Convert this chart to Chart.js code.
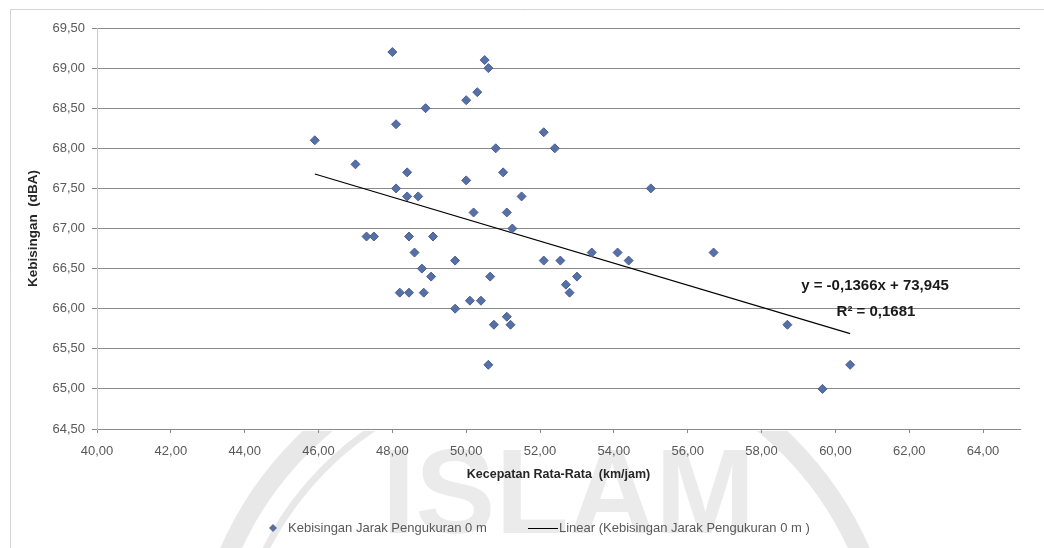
<!DOCTYPE html>
<html>
<head>
<meta charset="utf-8">
<script src="https://cdn.jsdelivr.net/npm/chart.js@4.4.0/dist/chart.umd.min.js"></script>
<style>
  html, body { margin: 0; padding: 0; background: #fff; }
  #wrap { width: 1044px; height: 548px; }
</style>
</head>
<body>
<div id="wrap"><canvas id="chart"></canvas></div>
<script>
// Kecepatan rata-rata (km/jam) vs kebisingan (dBA), jarak pengukuran 0 m
const speedKmh = [
  45.9, 47.0, 47.3, 47.5, 48.0, 48.1, 48.1, 48.4, 48.4, 48.7,
  48.45, 48.6, 48.8, 48.2, 48.45, 48.85, 48.9, 49.1, 49.05, 49.7,
  49.7, 50.0, 50.0, 50.1, 50.2, 50.3, 50.4, 50.5, 50.6, 50.6,
  50.65, 50.75, 50.8, 51.0, 51.1, 51.1, 51.2, 51.25, 51.5, 52.1,
  52.1, 52.4, 52.55, 52.7, 52.8, 53.0, 53.4, 54.1, 54.4, 55.0,
  56.7, 58.7, 59.65, 60.4
];
const noiseDba = [
  68.1, 67.8, 66.9, 66.9, 69.2, 68.3, 67.5, 67.7, 67.4, 67.4,
  66.9, 66.7, 66.5, 66.2, 66.2, 66.2, 68.5, 66.9, 66.4, 66.6,
  66.0, 68.6, 67.6, 66.1, 67.2, 68.7, 66.1, 69.1, 69.0, 65.3,
  66.4, 65.8, 68.0, 67.7, 67.2, 65.9, 65.8, 67.0, 67.4, 68.2,
  66.6, 68.0, 66.6, 66.3, 66.2, 66.4, 66.7, 66.7, 66.6, 67.5,
  66.7, 65.8, 65.0, 65.3
];

// Linear trend line (read at the ends of the drawn line)
const trendSpeed = [45.9, 60.4];
const trendNoise = [67.68, 65.69];
const trendLabel = ['y = -0,1366x + 73,945', 'R\u00b2 = 0,1681'];

const xTicks = [40, 42, 44, 46, 48, 50, 52, 54, 56, 58, 60, 62, 64];
const yTicks = [64.5, 65, 65.5, 66, 66.5, 67, 67.5, 68, 68.5, 69, 69.5];

const seriesName = 'Kebisingan Jarak Pengukuran 0 m';
const trendName = 'Linear (Kebisingan Jarak Pengukuran 0 m )';

const FONT = '"Liberation Sans", Arial, sans-serif';
const comma = v => v.toFixed(2).replace('.', ',');

// faint watermark (only visible outside the plot area) + outer frame
const backdrop = {
  id: 'backdrop',
  beforeDraw(chart) {
    const ctx = chart.ctx;
    ctx.save();
    ctx.beginPath();
    ctx.rect(0, 431, 1044, 117);
    ctx.clip();
    ctx.strokeStyle = 'rgba(0,0,0,0.09)';
    ctx.lineWidth = 20;
    ctx.beginPath();
    ctx.arc(545, 689, 344, 0, Math.PI * 2);
    ctx.stroke();
    ctx.lineWidth = 7;
    ctx.beginPath();
    ctx.arc(545, 689, 312, Math.PI * 1.05, Math.PI * 1.4);
    ctx.stroke();
    ctx.fillStyle = 'rgba(0,0,0,0.08)';
    ctx.font = 'bold 120px ' + FONT;
    ctx.textBaseline = 'alphabetic';
    ctx.fillText('ISLAM', 382, 533);
    ctx.restore();

    ctx.save();
    ctx.strokeStyle = '#d4d4d4';
    ctx.lineWidth = 1;
    ctx.beginPath();
    ctx.moveTo(10.5, 548);
    ctx.lineTo(10.5, 9.5);
    ctx.lineTo(1044, 9.5);
    ctx.stroke();
    ctx.restore();
  }
};

// legend and equation text
const notes = {
  id: 'notes',
  afterDraw(chart) {
    const ctx = chart.ctx;
    ctx.save();
    const ly = 528;
    // diamond marker
    ctx.fillStyle = '#5a6ea0';
    ctx.beginPath();
    ctx.moveTo(273, ly - 4); ctx.lineTo(277, ly); ctx.lineTo(273, ly + 4); ctx.lineTo(269, ly);
    ctx.closePath(); ctx.fill();
    ctx.fillStyle = '#595959';
    ctx.font = '13px ' + FONT;
    ctx.textBaseline = 'middle';
    ctx.fillText(seriesName, 288, ly);
    ctx.strokeStyle = '#000';
    ctx.lineWidth = 1;
    ctx.beginPath(); ctx.moveTo(528, ly + 0.5); ctx.lineTo(558, ly + 0.5); ctx.stroke();
    ctx.fillText(trendName, 559, ly);

    ctx.fillStyle = '#1a1a1a';
    ctx.font = 'bold 15px ' + FONT;
    ctx.textAlign = 'center';
    ctx.fillText(trendLabel[0], 875, 286);
    ctx.fillText(trendLabel[1], 876, 312);
    ctx.restore();
  }
};

new Chart(document.getElementById('chart'), {
  type: 'scatter',
  data: {
    datasets: [
      {
        label: seriesName,
        data: speedKmh.map((x, i) => ({ x, y: noiseDba[i] })),
        pointStyle: 'rectRot',
        pointRadius: 4.5,
        pointHoverRadius: 4.5,
        backgroundColor: '#5570a8',
        borderColor: '#4a5f94',
        borderWidth: 1
      },
      {
        type: 'line',
        label: trendName,
        data: trendSpeed.map((x, i) => ({ x, y: trendNoise[i] })),
        borderColor: '#000',
        borderWidth: 1.2,
        pointRadius: 0,
        fill: false
      }
    ]
  },
  options: {
    responsive: true,
    maintainAspectRatio: false,
    animation: false,
    layout: { padding: { left: 20, right: 24, top: 28, bottom: 40 } },
    plugins: { legend: { display: false }, tooltip: { enabled: false } },
    scales: {
      x: {
        type: 'linear',
        min: 40,
        max: 65,
        afterBuildTicks: s => { s.ticks = xTicks.map(v => ({ value: v })); },
        afterFit: s => { s.height = 548 - 40 - 429; },
        ticks: { callback: v => comma(v), color: '#595959', font: { family: FONT, size: 13 }, padding: 11, maxRotation: 0 },
        grid: { drawOnChartArea: false, drawTicks: true, tickLength: 4, color: '#8a8a8a' },
        border: { color: '#8a8a8a' },
        title: {
          display: true,
          text: 'Kecepatan Rata-Rata  (km/jam)',
          color: '#262626',
          font: { family: FONT, size: 12.5, weight: 'bold' },
          padding: { top: 0, bottom: 26 }
        }
      },
      y: {
        min: 64.5,
        max: 69.5,
        afterBuildTicks: s => { s.ticks = yTicks.map(v => ({ value: v })); },
        afterFit: s => { s.width = 97 - 20; },
        ticks: { callback: v => comma(v), color: '#595959', font: { family: FONT, size: 13 }, padding: 7 },
        grid: { color: '#8a8a8a', tickLength: 5 },
        border: { color: '#c8c8c8' },
        title: {
          display: true,
          text: 'Kebisingan  (dBA)',
          color: '#262626',
          font: { family: FONT, size: 13.5, weight: 'bold' },
          padding: { top: 5, bottom: 0 }
        }
      }
    }
  },
  plugins: [backdrop, notes]
});
</script>
</body>
</html>
